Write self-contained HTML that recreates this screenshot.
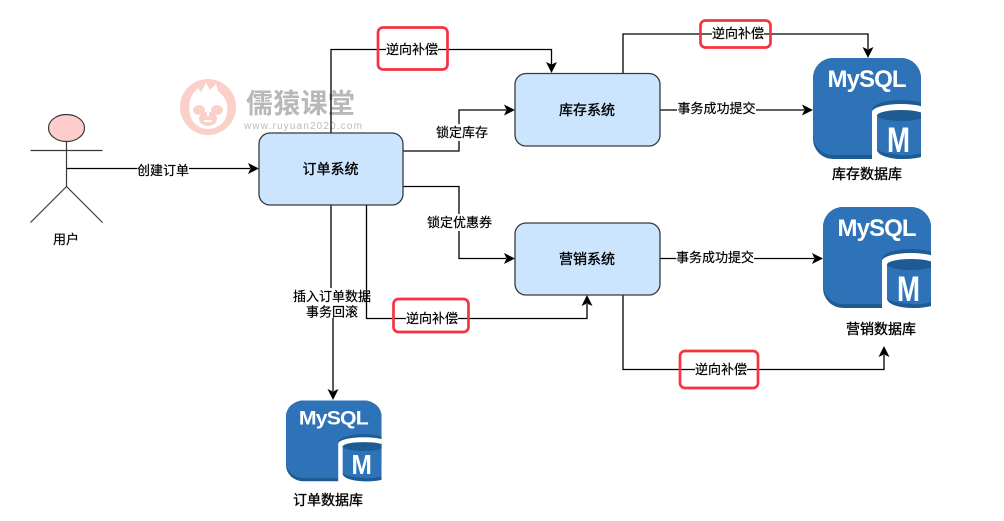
<!DOCTYPE html>
<html>
<head>
<meta charset="utf-8">
<style>
html,body{margin:0;padding:0;background:#fff;width:1004px;height:521px;overflow:hidden}
svg{display:block}
text{font-family:"Liberation Sans","Noto Sans CJK SC",sans-serif;fill:#000}
.l{font-size:13px;text-anchor:middle;stroke:#000;stroke-width:.2}
.n{font-size:14px;text-anchor:middle;stroke:#000;stroke-width:.35}
.line{fill:none;stroke:#000;stroke-width:1.3}
.box{fill:#cce5ff;stroke:#36393d;stroke-width:1.3}
.red{fill:none;stroke:#f5333f;stroke-width:2.7}
.bg{fill:#fff}
.head{fill:#000}
.my{font-size:24px;font-weight:700;fill:#fff;text-anchor:middle}
.mm{font-size:35px;font-weight:700;fill:#fff}
</style>
</head>
<body>
<svg width="1004" height="521" viewBox="0 0 1004 521" xmlns="http://www.w3.org/2000/svg">
<defs>
<clipPath id="c"><rect x="0" y="0" width="108" height="102"/></clipPath>
</defs>
<rect width="1004" height="521" fill="#fff"/>

<!-- watermark -->
<g>
<circle cx="208" cy="107" r="28" fill="#fbd0c8"/>
<path d="M190 114 C187 100 193 93 198 88 L201 92 L206 83 L210 90 L216 84 L218 91 C224 96 229 102 227 114 C225 124 216 129 208 129 C200 129 192 124 190 114Z" fill="#fff"/>
<ellipse cx="199" cy="110" rx="6" ry="5" fill="#fbd0c8"/>
<ellipse cx="217" cy="110" rx="6" ry="5" fill="#fbd0c8"/>
<ellipse cx="208" cy="119" rx="9" ry="7" fill="#fbd0c8"/>
<path d="M208 108 V116 M204 121 H212" stroke="#fff" stroke-width="2"/>
<text x="246" y="113" style="font-size:27px;font-weight:700;fill:#b8b8b8;letter-spacing:.3px">儒猿课堂</text>
<text x="244" y="129" style="font-size:10px;fill:#bbb;letter-spacing:1.15px">www.ruyuan2020.com</text>
</g>

<!-- connectors -->
<path class="line" d="M67 168.500 H250"/>
<path class="head" d="M259 168.500 L248 163 L250.500 168.500 L248 174Z"/>

<path class="line" d="M331 133 V49.500 H551.500 V65"/>
<path class="head" d="M551.500 73 L546 62 L551.500 64.500 L557 62Z"/>

<path class="line" d="M403 151 H459 V110 H506"/>
<path class="head" d="M515 110 L504 104.500 L506.500 110 L504 115.500Z"/>

<path class="line" d="M403 186.500 H459 V258.500 H506"/>
<path class="head" d="M515 258.500 L504 253 L506.500 258.500 L504 264Z"/>

<path class="line" d="M331 205 V300 H333 V391"/>
<path class="head" d="M333 400 L327.500 389 L333 391.500 L338.500 389Z"/>

<path class="line" d="M366.500 205 V318.500 H587 V304"/>
<path class="head" d="M587 295 L581.500 306 L587 303.500 L592.500 306Z"/>

<path class="line" d="M623 73 V34 H868 V49"/>
<path class="head" d="M868 58 L862.500 47 L868 49.500 L873.500 47Z"/>

<path class="line" d="M660 110 H804"/>
<path class="head" d="M813 110 L802 104.500 L804.500 110 L802 115.500Z"/>

<path class="line" d="M660 258.500 H814"/>
<path class="head" d="M823 258.500 L812 253 L814.500 258.500 L812 264Z"/>

<path class="line" d="M623 295 V369.500 H884 V355"/>
<path class="head" d="M884 346 L878.500 357 L884 354.500 L889.500 357Z"/>

<!-- actor -->
<ellipse cx="66.500" cy="128" rx="18" ry="13.500" fill="#ffcccc" stroke="#36393d" stroke-width="1.200"/>
<path d="M66.500 141.500 V186.500 M30.500 150.500 H102.500 M66.500 186.500 L30.500 222.500 M66.500 186.500 L102.500 222.500" fill="none" stroke="#36393d" stroke-width="1.200"/>
<text class="l" x="66" y="244">用户</text>

<!-- boxes -->
<rect class="box" x="259" y="133" width="144" height="72" rx="11"/>
<text class="n" x="330.500" y="174">订单系统</text>
<rect class="box" x="515" y="73.500" width="145" height="72.500" rx="11"/>
<text class="n" x="587" y="115">库存系统</text>
<rect class="box" x="515" y="223" width="145" height="72" rx="11"/>
<text class="n" x="587" y="264">营销系统</text>

<!-- edge labels -->
<rect class="bg" x="137" y="162" width="52" height="15"/>
<text class="l" x="163" y="175">创建订单</text>
<rect class="bg" x="436" y="124" width="52" height="17"/>
<text class="l" x="462" y="137">锁定库存</text>
<rect class="bg" x="427" y="214" width="65" height="17"/>
<text class="l" x="459.500" y="227">锁定优惠券</text>
<rect class="bg" x="677" y="101" width="79" height="14"/>
<text class="l" x="716.500" y="113">事务成功提交</text>
<rect class="bg" x="676" y="250" width="78" height="14"/>
<text class="l" x="715" y="262">事务成功提交</text>
<rect class="bg" x="325" y="288" width="12" height="30"/>
<text class="l" x="332" y="301">插入订单数据</text>
<text class="l" x="332" y="316.500">事务回滚</text>

<!-- red label boxes -->
<rect class="red" x="378" y="27.500" width="69.500" height="42" rx="5"/>
<rect class="bg" x="386" y="42" width="52" height="14"/>
<text class="l" x="412" y="54">逆向补偿</text>
<rect class="red" x="700.500" y="20.500" width="70" height="27" rx="5"/>
<rect class="bg" x="712" y="26" width="52" height="14"/>
<text class="l" x="738" y="38">逆向补偿</text>
<rect class="red" x="393.500" y="299" width="75" height="33" rx="5"/>
<rect class="bg" x="406" y="311" width="52" height="14"/>
<text class="l" x="432" y="323">逆向补偿</text>
<rect class="red" x="680" y="351" width="78" height="37" rx="5"/>
<rect class="bg" x="695" y="362" width="52" height="14"/>
<text class="l" x="721" y="374">逆向补偿</text>

<!-- mysql 1 -->
<g transform="translate(813,58)">
<g clip-path="url(#c)">
<path d="M20 0 H88 A20 20 0 0 1 108 20 V82 Q108 101 88 101 H20 A20 20 0 0 1 0 81 V20 A20 20 0 0 1 20 0Z" fill="#1f5b93"/>
<path d="M20 0 H88 A20 20 0 0 1 108 20 V80 H60 V97 H20 A20 20 0 0 1 0 77 V20 A20 20 0 0 1 20 0Z" fill="#2e73b8"/>
<ellipse cx="88" cy="52" rx="29" ry="10" fill="#1f5b93"/>
<ellipse cx="88" cy="54" rx="29" ry="8" fill="#fff"/>
<rect x="59" y="54" width="49" height="48" fill="#fff"/>
<path d="M64 57 H108 V99 Q100 101 90 101 C78 101 64 98 64 91Z" fill="#2e73b8"/>
<path d="M64 91 C64 98 78 101 90 101 Q100 101 108 99 V95 Q98 98 88 97 C78 96 68 95 64 91Z" fill="#1f5b93"/>
<ellipse cx="88" cy="57.500" rx="24" ry="5.500" fill="#1f5b93"/>
<text class="mm" x="74" y="94" textLength="23" lengthAdjust="spacingAndGlyphs">M</text>
</g>
<text class="my" x="54" y="29" textLength="79" lengthAdjust="spacing">MySQL</text>
</g>

<!-- mysql 2 -->
<g transform="translate(823,207)">
<g clip-path="url(#c)">
<path d="M20 0 H88 A20 20 0 0 1 108 20 V82 Q108 101 88 101 H20 A20 20 0 0 1 0 81 V20 A20 20 0 0 1 20 0Z" fill="#1f5b93"/>
<path d="M20 0 H88 A20 20 0 0 1 108 20 V80 H60 V97 H20 A20 20 0 0 1 0 77 V20 A20 20 0 0 1 20 0Z" fill="#2e73b8"/>
<ellipse cx="88" cy="52" rx="29" ry="10" fill="#1f5b93"/>
<ellipse cx="88" cy="54" rx="29" ry="8" fill="#fff"/>
<rect x="59" y="54" width="49" height="48" fill="#fff"/>
<path d="M64 57 H108 V99 Q100 101 90 101 C78 101 64 98 64 91Z" fill="#2e73b8"/>
<path d="M64 91 C64 98 78 101 90 101 Q100 101 108 99 V95 Q98 98 88 97 C78 96 68 95 64 91Z" fill="#1f5b93"/>
<ellipse cx="88" cy="57.500" rx="24" ry="5.500" fill="#1f5b93"/>
<text class="mm" x="74" y="94" textLength="23" lengthAdjust="spacingAndGlyphs">M</text>
</g>
<text class="my" x="54" y="29" textLength="79" lengthAdjust="spacing">MySQL</text>
</g>

<!-- mysql 3 -->
<g transform="translate(286,400.500) scale(0.885,0.8)">
<g clip-path="url(#c)">
<path d="M20 0 H88 A20 20 0 0 1 108 20 V82 Q108 101 88 101 H20 A20 20 0 0 1 0 81 V20 A20 20 0 0 1 20 0Z" fill="#1f5b93"/>
<path d="M20 0 H88 A20 20 0 0 1 108 20 V80 H60 V97 H20 A20 20 0 0 1 0 77 V20 A20 20 0 0 1 20 0Z" fill="#2e73b8"/>
<ellipse cx="88" cy="52" rx="29" ry="10" fill="#1f5b93"/>
<ellipse cx="88" cy="54" rx="29" ry="8" fill="#fff"/>
<rect x="59" y="54" width="49" height="48" fill="#fff"/>
<path d="M64 57 H108 V99 Q100 101 90 101 C78 101 64 98 64 91Z" fill="#2e73b8"/>
<path d="M64 91 C64 98 78 101 90 101 Q100 101 108 99 V95 Q98 98 88 97 C78 96 68 95 64 91Z" fill="#1f5b93"/>
<ellipse cx="88" cy="57.500" rx="24" ry="5.500" fill="#1f5b93"/>
<text class="mm" x="74" y="92" textLength="23" lengthAdjust="spacingAndGlyphs">M</text>
</g>
<text class="my" x="54" y="30" textLength="79" lengthAdjust="spacing">MySQL</text>
</g>

<!-- db labels -->
<text class="n" x="867" y="179">库存数据库</text>
<text class="n" x="881" y="334">营销数据库</text>
<text class="n" x="328" y="505">订单数据库</text>
</svg>
</body>
</html>
